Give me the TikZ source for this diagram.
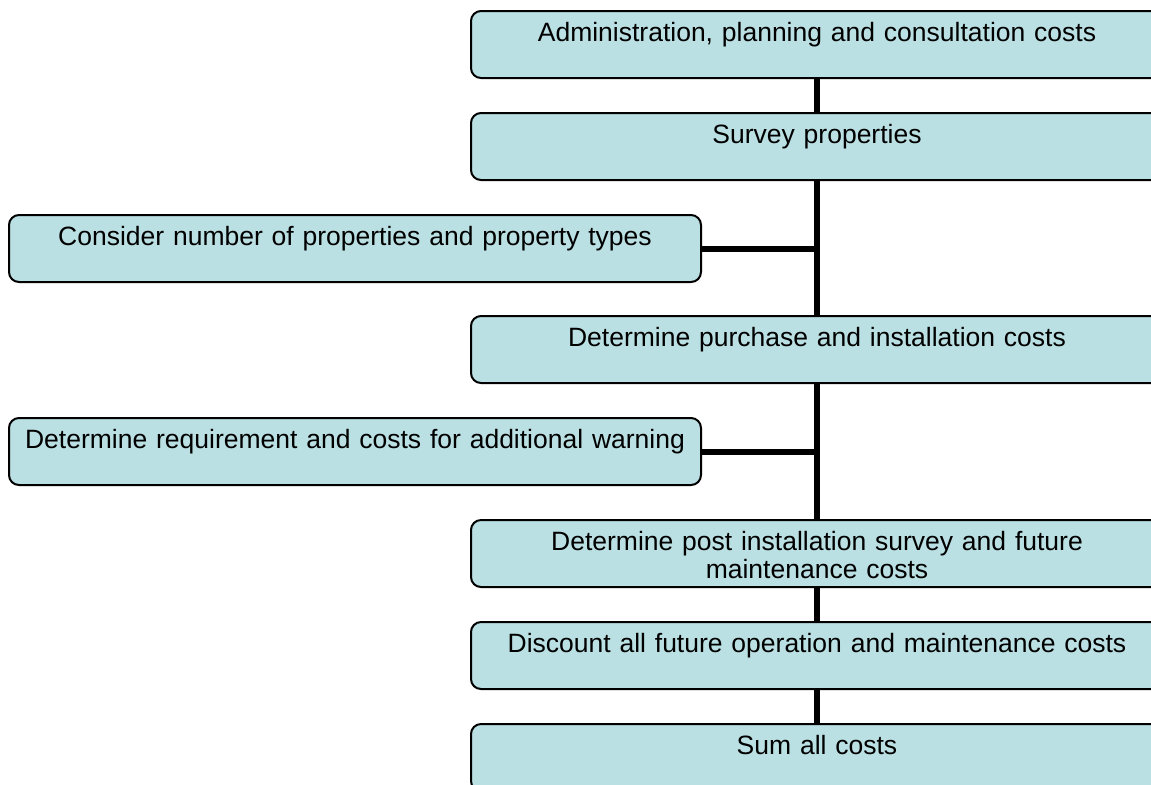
\documentclass[tikz,border=0pt]{standalone}
\usepackage{fontspec}
\setmainfont{Liberation Sans}
\usepackage{xcolor}
\definecolor{paleCyan}{HTML}{BAE0E3}
\usepackage{tikz}
\usetikzlibrary{positioning}
\usetikzlibrary{calc}

\begin{document}
\begin{tikzpicture}[x = 0.5pt, y = 0.5pt,
	block/.style = {rectangle, draw = black, line width = 1pt, fill = paleCyan, rounded corners = 5pt,
		minimum width = 346pt, text width = 340pt, align = center, inner xsep = 0pt, inner ysep = 0pt,
		text height = 15pt, text depth = 18.5pt, font = \fontsize{13.25}{14}\selectfont},
	link/.style = {line width = 3pt}]
	\path[use as bounding box, clip] (0, 0) rectangle (1151, -784);

	%% Main column
	\node[block] (admin) at (817, -44.5) {Administration, planning and consultation costs};
	\node[block, below = 16.5pt of admin] (survey) {Survey properties};
	\node[block, below = 67pt of survey] (purchase) {Determine purchase and installation costs};
	\node[block, below = 67.5pt of purchase] (post) {Determine post installation survey and future\\ maintenance costs};
	\node[block, below = 16.5pt of post] (discount) {Discount all future operation and maintenance costs};
	\node[block, below = 16.5pt of discount] (sum) {Sum all costs};

	%% Side boxes
	\node[block, below left = 16.5pt and 57.5pt of survey.south] (consider) {Consider number of properties and property types};
	\node[block, below left = 16.5pt and 57.5pt of purchase.south] (warning) {Determine requirement and costs for additional warning};

	%% Lines...
	% ... down the main column
	\draw[link] (admin) -- (survey);
	\draw[link] (survey) -- (purchase);
	\draw[link] (purchase) -- (post);
	\draw[link] (post) -- (discount);
	\draw[link] (discount) -- (sum);

	% ... side boxes to the column
	\draw[link] (consider.east) -- (consider.east -| survey.south);
	\draw[link] (warning.east) -- (warning.east -| purchase.south);
\end{tikzpicture}
\end{document}
